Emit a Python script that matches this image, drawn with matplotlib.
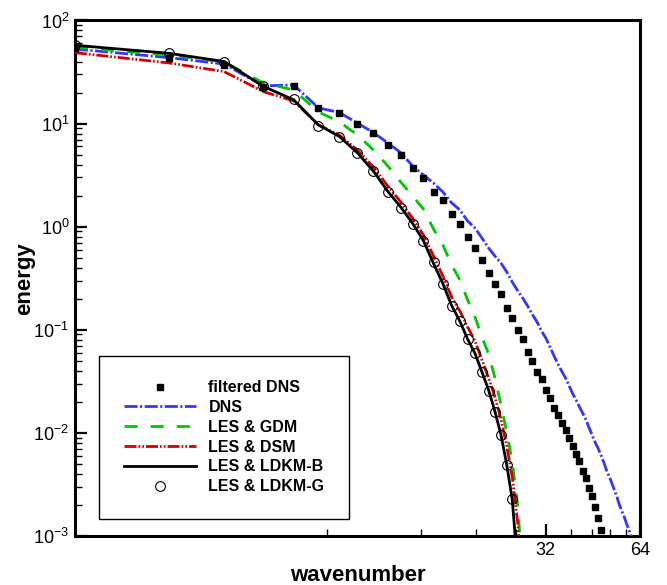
import matplotlib
matplotlib.use("Agg")  # non-GUI backend
import matplotlib.pyplot as plt
from matplotlib.ticker import FixedLocator, FixedFormatter, NullFormatter, LogLocator

plt.rcParams["font.family"] = ["Liberation Sans", "DejaVu Sans"]
plt.rcParams["mathtext.fontset"] = "custom"
plt.rcParams["mathtext.rm"] = "Liberation Sans"

# filtered DNS (squares)
k_fdns = list(range(1, 49))
e_fdns = [54.0, 43.0, 37.0, 22.4, 23.3, 14.1, 12.8, 9.85, 8.05, 6.2,
          4.95, 3.71, 2.96, 2.17, 1.82, 1.33, 1.06, 0.794, 0.621, 0.475,
          0.356, 0.278, 0.222, 0.164, 0.130, 0.0995, 0.0814, 0.061, 0.0498, 0.039,
          0.0333, 0.0260, 0.0219, 0.0175, 0.0150, 0.0125, 0.0107, 0.0089, 0.0075, 0.00624,
          0.00537, 0.0043, 0.00365, 0.00294, 0.00243, 0.00191, 0.00149, 0.00115]

# DNS
k_dns = list(range(1, 62))
e_dns = [52.9, 43.6, 37.8, 23.2, 23.7, 14.2, 12.8, 10.1, 8.17, 6.49,
         5.22, 3.88, 3.17, 2.65, 2.17, 1.70, 1.45, 1.135, 0.970, 0.776,
         0.621, 0.519, 0.444, 0.364, 0.290, 0.240, 0.203, 0.170, 0.140, 0.119,
         0.0973, 0.0832, 0.0681, 0.0557, 0.0465, 0.0395, 0.0340, 0.0285, 0.0240, 0.0208,
         0.0178, 0.0155, 0.0134, 0.0112, 0.0095, 0.0081, 0.0071, 0.0061, 0.0052, 0.00436,
         0.00381, 0.00326, 0.00279, 0.00239, 0.00200, 0.00175, 0.00153, 0.00131, 0.00114, 0.00100,
         0.000875]

# LES runs
k_les = list(range(1, 28))
e_gdm = [55.0, 46.3, 39.6, 24.8, 21.2, 12.96, 10.4, 7.75, 5.54, 3.88,
         2.71, 1.99, 1.48, 0.950, 0.665, 0.425, 0.304, 0.195, 0.133, 0.0850,
         0.0582, 0.0341, 0.0187, 0.0102, 0.00522, 0.0020, 0.00042]
e_dsm = [48.7, 38.7, 31.9, 20.4, 16.6, 9.69, 7.75, 5.54, 3.79, 2.48,
         1.74, 1.21, 0.831, 0.520, 0.332, 0.208, 0.152, 0.1065, 0.0778, 0.0509,
         0.0341, 0.0223, 0.0136, 0.00746, 0.00374, 0.00137, 0.0003]

k_ldkm = list(range(1, 27))
e_ldkm_b = [57.5, 48.0, 40.0, 23.0, 17.0, 9.7, 7.5, 5.2, 3.45, 2.2,
            1.55, 1.08, 0.73, 0.44, 0.28, 0.172, 0.121, 0.081, 0.059, 0.039,
            0.026, 0.0162, 0.0096, 0.0049, 0.00225, 0.0005]
e_ldkm_g = [57.9, 48.1, 39.8, 23.2, 17.2, 9.54, 7.41, 5.15, 3.43, 2.19,
            1.53, 1.07, 0.72, 0.45, 0.28, 0.17, 0.122, 0.0809, 0.0592, 0.0387,
            0.0257, 0.0161, 0.00955, 0.00489, 0.00229, 0.000547]

x_major = [32, 64]
x_major_labels = ["32", "64"]
x_minor = [6.4, 12.8, 19.2, 25.6, 38.4, 44.8, 51.2, 57.6]

fig = plt.figure(figsize=(6.67, 5.85), dpi=100)
ax = fig.add_axes([0.1124, 0.0838, 0.8471, 0.8812])

ax.plot(k_fdns, e_fdns, ls="none", marker="s", ms=4.5, color="black",
        label="filtered DNS", zorder=4)
ax.plot(k_dns, e_dns, color="#3535ff", lw=2.0, dashes=(4.7, 0.9, 0.75, 0.9),
        label="DNS", zorder=3)
ax.plot(k_les, e_gdm, color="#00c800", lw=2.0, dashes=(4.7, 4.7),
        label="LES & GDM", zorder=3)
ax.plot(k_les, e_dsm, color="#d40000", lw=2.0,
        dashes=(4.3, 0.75, 0.6, 0.75, 0.6, 0.75),
        label="LES & DSM", zorder=3)
ax.plot(k_ldkm, e_ldkm_b, color="black", lw=2.0, label="LES & LDKM-B", zorder=4)
ax.plot(k_ldkm, e_ldkm_g, ls="none", marker="o", ms=7, mfc="none", mec="black",
        mew=0.8, label="LES & LDKM-G", zorder=5)

ax.set_xscale("log")
ax.set_yscale("log")
ax.set_xlim(1, 64)
ax.set_ylim(1e-3, 1e2)

ax.xaxis.set_major_locator(FixedLocator(x_major))
ax.xaxis.set_major_formatter(FixedFormatter(x_major_labels))
ax.xaxis.set_minor_locator(FixedLocator(x_minor))
ax.xaxis.set_minor_formatter(NullFormatter())
ax.yaxis.set_major_locator(LogLocator(base=10, numticks=10))
ax.yaxis.set_minor_locator(LogLocator(base=10, subs=range(2, 10), numticks=10))
ax.yaxis.set_minor_formatter(NullFormatter())

ax.tick_params(which="major", direction="in", length=8.5, width=1.6,
               labelsize=13, pad=4, top=False, right=False)
ax.tick_params(which="minor", direction="in", length=5, width=1.0,
               top=False, right=False)
for side in ax.spines.values():
    side.set_linewidth(2.2)

ax.set_xlabel("wavenumber", fontsize=16, fontweight="bold", labelpad=5)
ax.set_ylabel("energy", fontsize=16, fontweight="bold")
ax.yaxis.set_label_coords(-0.07, 0.5)

leg = ax.legend(loc="lower left", bbox_to_anchor=(99 / 667, 1 - 519 / 585),
                bbox_transform=fig.transFigure, borderaxespad=0, fancybox=False,
                framealpha=1, edgecolor="black", prop={"weight": "bold", "size": 11.5},
                handlelength=4.5, handletextpad=0.8, borderpad=1.55,
                labelspacing=0.3, numpoints=1)
leg.get_frame().set_linewidth(1.0)

plt.savefig("out.png", dpi=100)
plt.close()
